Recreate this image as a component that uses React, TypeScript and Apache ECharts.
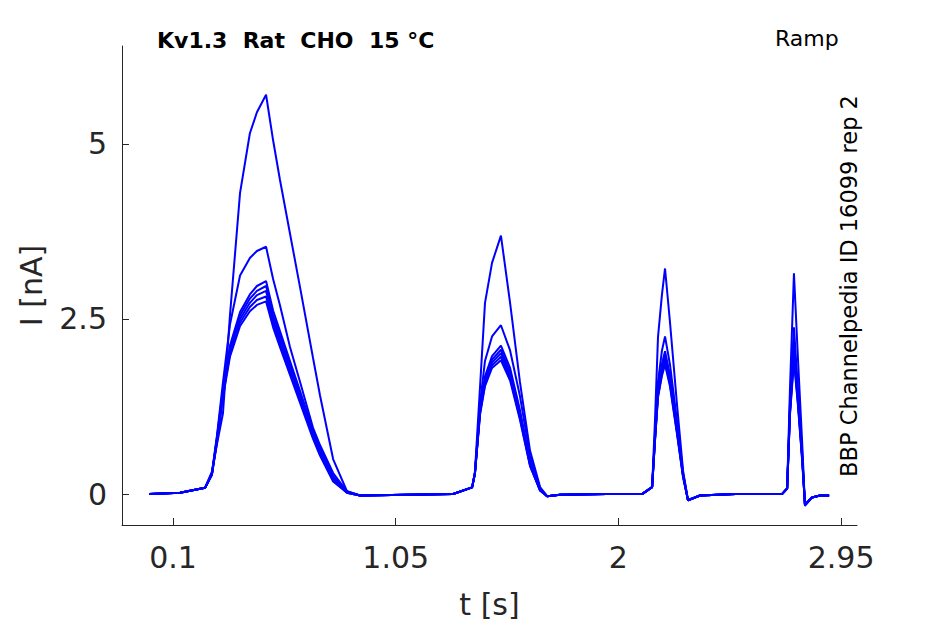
import React, { useEffect, useRef } from "react";
import * as echarts from "echarts";

// time samples [s]
const timeS = [
  0.0, 0.13, 0.237, 0.266, 0.288, 0.313, 0.343, 0.386, 0.428, 0.458, 0.497, 0.527, 0.556, 0.599, 0.642, 0.697, 0.727, 0.783, 0.842, 0.898,
  1.1,
  1.295, 1.376, 1.388, 1.41, 1.431, 1.461, 1.499, 1.538, 1.58, 1.623, 1.666, 1.696, 1.751,
  1.95,
  2.101, 2.144, 2.156, 2.169, 2.186, 2.199, 2.22, 2.25, 2.276, 2.297, 2.348,
  2.5,
  2.698, 2.72, 2.732, 2.749, 2.766, 2.784, 2.796, 2.826, 2.86, 2.899,
];

// current traces [nA]
const trace1 = [
  0, 0.02, 0.09, 0.32, 0.72, 1.15, 2.55, 4.3, 5.15, 5.45, 5.7, 5.05, 4.49, 3.72, 2.95, 1.95, 1.41, 0.5, 0.04, -0.02,
  -0.01,
  0.0, 0.095, 0.31, 1.54, 2.73, 3.3, 3.69, 2.73, 1.6, 0.62, 0.1, -0.03, -0.01,
  0.0,
  0.0, 0.1, 1.04, 2.24, 2.85, 3.22, 2.46, 1.28, 0.33, -0.09, -0.02,
  0.0,
  0.0, 0.08, 1.5, 3.15, 1.94, 0.74, -0.17, -0.05, -0.02, -0.02,
];
const trace2 = [
  0, 0.02, 0.09, 0.3, 0.85, 1.59, 2.42, 3.12, 3.37, 3.47, 3.53, 3.07, 2.7, 2.1, 1.6, 0.95, 0.7, 0.3, 0.04, -0.02,
  -0.01,
  0.0, 0.095, 0.3, 1.3, 1.9, 2.25, 2.41, 2.05, 1.4, 0.55, 0.08, -0.03, -0.01,
  0.0,
  0.0, 0.1, 0.85, 1.6, 2.05, 2.25, 1.85, 1.05, 0.3, -0.08, -0.02,
  0.0,
  0.0, 0.08, 1.3, 2.38, 1.5, 0.6, -0.15, -0.05, -0.02, -0.02,
];
const trace3 = [
  0, 0.02, 0.09, 0.29, 0.82, 1.5, 2.12, 2.6, 2.85, 2.97, 3.04, 2.62, 2.33, 1.9, 1.47, 0.92, 0.66, 0.26, 0.03, -0.02,
  -0.01,
  0.0, 0.095, 0.3, 1.22, 1.68, 1.97, 2.12, 1.8, 1.2, 0.47, 0.06, -0.03, -0.01,
  0.0,
  0.0, 0.1, 0.8, 1.5, 1.86, 2.04, 1.7, 0.96, 0.28, -0.09, -0.02,
  0.0,
  0.0, 0.08, 1.22, 2.18, 1.42, 0.56, -0.15, -0.05, -0.02, -0.02,
];
const trace4 = [
  0, 0.02, 0.09, 0.29, 0.8, 1.47, 2.08, 2.55, 2.79, 2.9, 2.97, 2.56, 2.27, 1.85, 1.42, 0.88, 0.63, 0.24, 0.03, -0.02,
  -0.01,
  0.0, 0.095, 0.3, 1.2, 1.64, 1.92, 2.06, 1.75, 1.16, 0.45, 0.06, -0.03, -0.01,
  0.0,
  0.0, 0.1, 0.78, 1.46, 1.8, 1.97, 1.65, 0.93, 0.27, -0.09, -0.02,
  0.0,
  0.0, 0.08, 1.2, 2.1, 1.38, 0.54, -0.15, -0.05, -0.02, -0.02,
];
const trace5 = [
  0, 0.02, 0.09, 0.28, 0.79, 1.44, 2.04, 2.5, 2.73, 2.84, 2.9, 2.5, 2.21, 1.8, 1.38, 0.85, 0.6, 0.22, 0.02, -0.02,
  -0.01,
  0.0, 0.095, 0.29, 1.18, 1.6, 1.88, 2.01, 1.7, 1.12, 0.43, 0.05, -0.03, -0.01,
  0.0,
  0.0, 0.1, 0.77, 1.43, 1.76, 1.92, 1.61, 0.9, 0.26, -0.09, -0.02,
  0.0,
  0.0, 0.08, 1.17, 2.02, 1.33, 0.52, -0.15, -0.05, -0.02, -0.02,
];
const trace6 = [
  0, 0.02, 0.09, 0.28, 0.77, 1.41, 2.0, 2.45, 2.67, 2.77, 2.82, 2.44, 2.15, 1.75, 1.34, 0.82, 0.57, 0.2, 0.02, -0.02,
  -0.01,
  0.0, 0.095, 0.29, 1.16, 1.57, 1.84, 1.96, 1.66, 1.09, 0.41, 0.05, -0.03, -0.01,
  0.0,
  0.0, 0.1, 0.76, 1.4, 1.72, 1.88, 1.57, 0.88, 0.25, -0.09, -0.02,
  0.0,
  0.0, 0.08, 1.15, 1.96, 1.3, 0.5, -0.15, -0.05, -0.02, -0.02,
];
const trace7 = [
  0, 0.02, 0.09, 0.27, 0.75, 1.38, 1.96, 2.4, 2.61, 2.7, 2.75, 2.38, 2.1, 1.7, 1.3, 0.79, 0.55, 0.18, 0.02, -0.02,
  -0.01,
  0.0, 0.095, 0.29, 1.14, 1.54, 1.8, 1.91, 1.62, 1.06, 0.4, 0.05, -0.03, -0.01,
  0.0,
  0.0, 0.1, 0.75, 1.38, 1.69, 1.85, 1.54, 0.86, 0.24, -0.09, -0.02,
  0.0,
  0.0, 0.08, 1.13, 1.9, 1.27, 0.48, -0.15, -0.05, -0.02, -0.02,
];
const traces = [trace1, trace2, trace3, trace4, trace5, trace6, trace7];

const xTicks = [0.1, 1.05, 2, 2.95];
const yTicks = [0, 2.5, 5];

const titleText = "Kv1.3  Rat  CHO  15 °C";
const protocolText = "Ramp";
const sourceText = "BBP Channelpedia ID 16099 rep 2";

const FONT = "DejaVu Sans";
const AXIS_COLOR = "#262626";

export default function App() {
  const ref = useRef<HTMLDivElement>(null);

  useEffect(() => {
    if (!ref.current) return;
    const chart = echarts.init(ref.current, undefined, { renderer: "svg" });
    const series = traces.map((tr, k) => ({
      type: "line",
      name: "trace" + (k + 1),
      data: timeS.map((t, i) => [t, tr[i]]),
      showSymbol: false,
      symbol: "none",
      lineStyle: { color: "#0000ff", width: 2 },
      itemStyle: { color: "#0000ff" },
      z: 2,
    }));
    chart.setOption({
      animation: false,
      backgroundColor: "#ffffff",
      grid: { left: 122, right: 88, top: 46, bottom: 98 },
      xAxis: {
        type: "value",
        min: -0.1176,
        max: 3.018,
        name: "t [s]",
        nameLocation: "middle",
        nameGap: 64,
        nameTextStyle: { fontFamily: FONT, fontSize: 30, color: AXIS_COLOR },
        axisLine: { show: true, onZero: false, lineStyle: { color: AXIS_COLOR, width: 1 } },
        axisTick: { show: true, inside: true, length: 7, customValues: xTicks, lineStyle: { color: AXIS_COLOR } },
        axisLabel: { customValues: xTicks, fontFamily: FONT, fontSize: 30, color: AXIS_COLOR, margin: 17 },
        splitLine: { show: false },
      },
      yAxis: {
        type: "value",
        min: -0.4416,
        max: 6.396,
        name: "I [nA]",
        nameLocation: "middle",
        nameGap: 76,
        nameRotate: 90,
        nameTextStyle: { fontFamily: FONT, fontSize: 30, color: AXIS_COLOR },
        axisLine: { show: true, onZero: false, lineStyle: { color: AXIS_COLOR, width: 1 } },
        axisTick: { show: true, inside: true, length: 7, customValues: yTicks, lineStyle: { color: AXIS_COLOR } },
        axisLabel: { customValues: yTicks, fontFamily: FONT, fontSize: 30, color: AXIS_COLOR, margin: 15 },
        splitLine: { show: false },
      },
      graphic: [
        {
          type: "text",
          x: 157,
          y: 40,
          style: { text: titleText, fontFamily: FONT, fontSize: 22, fontWeight: "bold", fill: "#000000", verticalAlign: "middle", align: "left" },
        },
        {
          type: "text",
          x: 775,
          y: 38,
          style: { text: protocolText, fontFamily: FONT, fontSize: 22, fill: "#000000", verticalAlign: "middle", align: "left" },
        },
        {
          type: "text",
          x: 849,
          y: 286,
          rotation: Math.PI / 2,
          style: { text: sourceText, fontFamily: FONT, fontSize: 22.5, fill: "#000000", verticalAlign: "middle", align: "center" },
        },
      ],
      series,
    });
    return () => chart.dispose();
  }, []);

  return <div ref={ref} style={{ position: "absolute", left: 0, top: 0, width: 945, height: 624 }} />;
}
